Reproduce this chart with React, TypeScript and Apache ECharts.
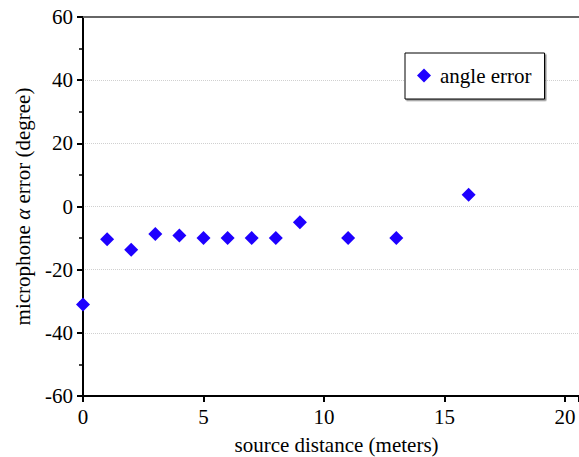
import React, { useEffect, useRef } from "react";
import * as echarts from "echarts";

const distances = [0, 1, 2, 3, 4, 5, 6, 7, 8, 9, 11, 13, 16];
const angleErrors = [-31, -10.4, -13.7, -8.7, -9.2, -10, -10, -10, -10, -5, -10, -10, 3.7];
const seriesName = "angle error";
const xTitle = "source distance (meters)";
const yTitle = "microphone {i|α} error (degree)";

const FONT = "Liberation Serif";
const FS = 21;

export default function App() {
  const ref = useRef<HTMLDivElement>(null);
  useEffect(() => {
    if (!ref.current) return;
    const chart = echarts.init(ref.current, undefined, { renderer: "svg" });
    const data = distances.map((d, i) => [d, angleErrors[i]]);
    chart.setOption({
      animation: false,
      backgroundColor: "#ffffff",
      textStyle: { fontFamily: FONT },
      grid: {
        left: 83,
        top: 17,
        right: 0,
        height: 379,
        containLabel: false,
        outerBoundsMode: "none",
      },
      legend: {
        left: 405,
        top: 53,
        data: [seriesName],
        icon: "diamond",
        itemWidth: 14,
        itemHeight: 14,
        itemGap: 6,
        padding: [12, 13, 13, 12],
        borderColor: "#000",
        borderWidth: 1,
        backgroundColor: "#fff",
        shadowColor: "rgba(0,0,0,0.45)",
        shadowOffsetX: 1.5,
        shadowOffsetY: 1.5,
        textStyle: { fontFamily: FONT, fontSize: FS, color: "#000", padding: [0, 0, 0, 4] },
      },
      xAxis: [
        {
          type: "value",
          min: 0,
          max: 20.58,
          interval: 5,
          position: "bottom",
          name: xTitle,
          nameLocation: "middle",
          nameGap: 38,
          nameTextStyle: { fontFamily: FONT, fontSize: FS, color: "#000", padding: [0, 0, 0, 11] },
          axisLine: { show: true, onZero: false, lineStyle: { color: "#000", width: 2 } },
          axisTick: { show: true, inside: false, length: 6, lineStyle: { color: "#000", width: 2 } },
          axisLabel: {
            fontFamily: FONT,
            fontSize: FS,
            color: "#000",
            margin: 10,
            formatter: (v: number) => (v % 5 === 0 ? String(v) : ""),
          },
          splitLine: { show: false },
        },
        {
          type: "value",
          min: 0,
          max: 20.58,
          position: "top",
          axisLine: { show: true, onZero: false, lineStyle: { color: "#666", width: 2 } },
          axisTick: { show: false },
          axisLabel: { show: false },
          splitLine: { show: false },
        },
      ],
      yAxis: {
        type: "value",
        min: -60,
        max: 60,
        interval: 20,
        name: yTitle,
        nameLocation: "middle",
        nameGap: 50,
        nameTextStyle: {
          fontFamily: FONT,
          fontSize: FS,
          color: "#000",
          rich: { i: { fontFamily: FONT, fontSize: FS, fontStyle: "italic", color: "#000" } },
        },
        axisLine: { show: true, onZero: false, lineStyle: { color: "#000", width: 2 } },
        axisTick: { show: true, inside: false, length: 6, lineStyle: { color: "#000", width: 2 } },
        minorTick: { show: true, splitNumber: 2, length: 4, lineStyle: { color: "#000", width: 1.5 } },
        axisLabel: { fontFamily: FONT, fontSize: FS, color: "#000", margin: 10 },
        splitLine: { show: true, lineStyle: { color: "#d0d0d0", type: "dotted", width: 1 } },
      },
      series: [
        {
          name: seriesName,
          type: "scatter",
          symbol: "diamond",
          symbolSize: 14,
          itemStyle: { color: "#1e00ff", opacity: 1 },
          data,
        },
      ],
    });
    return () => chart.dispose();
  }, []);
  return (
    <div
      ref={ref}
      style={{ position: "fixed", left: 0, top: 0, width: 579, height: 457 }}
    />
  );
}
